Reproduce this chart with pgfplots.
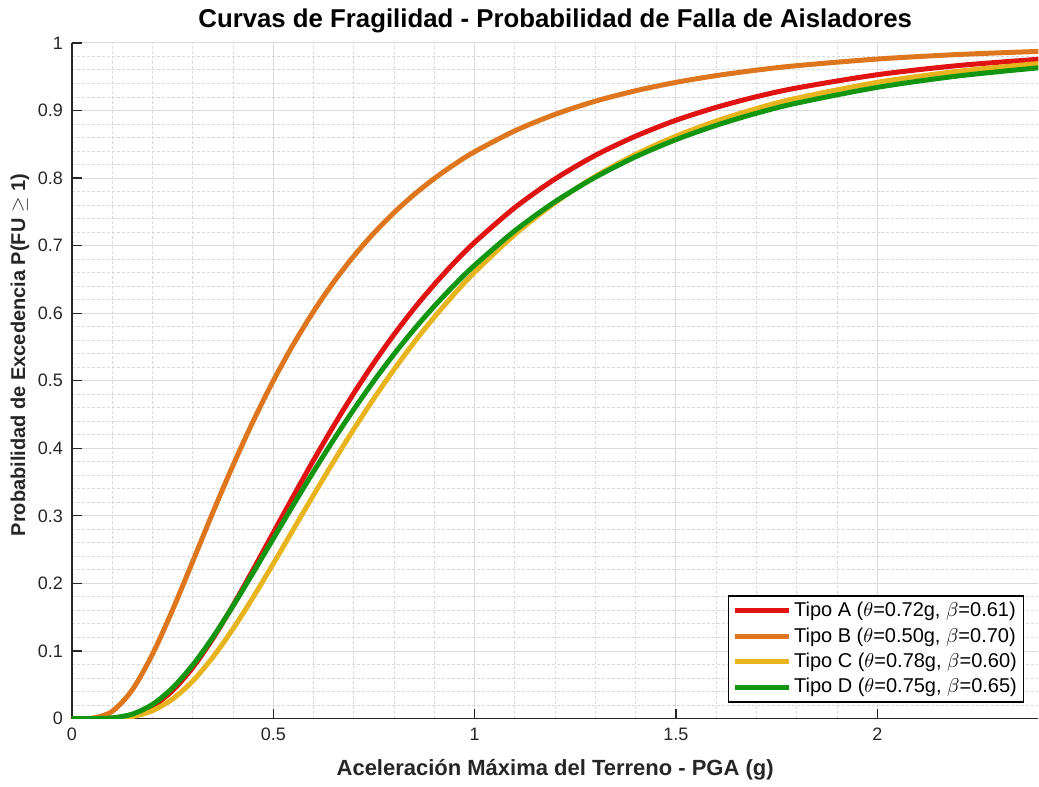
\documentclass[border=0pt]{standalone}
\usepackage{pgfplots}
\pgfplotsset{compat=1.18}
\usepackage{pgfplotstable}
\usepackage{fontspec}
\setmainfont{Liberation Sans}

\definecolor{cA}{RGB}{224,18,18}
\definecolor{cB}{RGB}{222,118,30}
\definecolor{cC}{RGB}{232,180,30}
\definecolor{cD}{RGB}{18,150,18}
\definecolor{axgray}{RGB}{38,38,38}

% PGA (g) vs probability of exceedance, one column per isolator type
\pgfplotstableread{
x     A       B       C       D
0     0       0       0       0
0.05  0.0000  0.0005  0.0000  0.0000
0.10  0.0006  0.0107  0.0003  0.0010
0.15  0.0051  0.0427  0.0030  0.0066
0.20  0.0179  0.0953  0.0117  0.0210
0.25  0.0415  0.1610  0.0290  0.0455
0.30  0.0756  0.2327  0.0556  0.0793
0.35  0.1185  0.3052  0.0909  0.1205
0.40  0.1676  0.3749  0.1329  0.1667
0.45  0.2205  0.4401  0.1797  0.2160
0.50  0.2751  0.5000  0.2293  0.2664
0.55  0.3294  0.5541  0.2802  0.3166
0.60  0.3825  0.6027  0.3310  0.3657
0.65  0.4334  0.6461  0.3806  0.4129
0.70  0.4816  0.6846  0.4285  0.4577
0.75  0.5267  0.7187  0.4740  0.5000
0.80  0.5686  0.7490  0.5169  0.5396
0.85  0.6072  0.7758  0.5570  0.5764
0.90  0.6427  0.7994  0.5943  0.6105
0.95  0.6752  0.8204  0.6288  0.6420
1.00  0.7049  0.8390  0.6606  0.6710
1.10  0.7564  0.8700  0.7167  0.7221
1.20  0.7988  0.8944  0.7636  0.7652
1.30  0.8337  0.9139  0.8027  0.8013
1.40  0.8621  0.9293  0.8352  0.8316
1.50  0.8856  0.9417  0.8621  0.8569
1.60  0.9047  0.9517  0.8844  0.8781
1.70  0.9205  0.9598  0.9029  0.8960
1.80  0.9334  0.9664  0.9183  0.9110
2.00  0.9530  0.9762  0.9417  0.9343
2.20  0.9665  0.9829  0.9580  0.9511
2.40  0.9758  0.9875  0.9695  0.9632
}\fragdata

\begin{document}
\begin{tikzpicture}
\begin{axis}[
    scale only axis,
    width=483.5pt, height=338pt,
    xmin=0, xmax=2.4, ymin=0, ymax=1,
    axis x line*=bottom, axis y line*=left,
    axis line style={axgray, line width=0.6pt},
    xtick={0,0.5,1,1.5,2},
    ytick={0,0.1,0.2,0.3,0.4,0.5,0.6,0.7,0.8,0.9,1},
    minor x tick num=4, minor y tick num=4,
    tick align=inside,
    major tick length=5pt, minor tick length=0pt,
    tick style={axgray, line width=0.6pt},
    ticklabel style={font=\fontsize{9}{11}\selectfont, text=axgray},
    /pgf/number format/assume math mode=true,
    xticklabel style={yshift=-1pt},
    yticklabel style={xshift=-1pt},
    grid=both,
    major grid style={solid, color=black!14, line width=0.5pt},
    minor grid style={dash pattern=on 1.5pt off 1pt, color=black!15, line width=0.5pt},
    title={\bfseries Curvas de Fragilidad - Probabilidad de Falla de Aisladores},
    title style={font=\fontsize{12.9}{15}\selectfont, at={(rel axis cs:0.5,1)}, anchor=base, yshift=1.5pt, text=black},
    xlabel={\bfseries Aceleración Máxima del Terreno - PGA (g)},
    xlabel style={font=\fontsize{11}{13}\selectfont, at={(rel axis cs:0.5,0)}, anchor=base, yshift=-28.5pt, text=axgray},
    ylabel={\bfseries Probabilidad de Excedencia P(FU $\geq$ 1)},
    ylabel style={font=\fontsize{10}{12}\selectfont, at={([xshift=-26pt]rel axis cs:0,0.538)}, anchor=center, text=axgray},
    legend style={at={(rel axis cs:1,0)}, anchor=south east, xshift=-7pt, yshift=8pt,
        draw=black, line width=0.6pt, font=\fontsize{10}{11.6}\selectfont,
        inner xsep=2pt, inner ysep=1pt, row sep=0pt, fill=white,
        nodes={inner xsep=1.5pt}},
    legend cell align=left,
    legend image code/.code={\draw[#1, line width=2.5pt] (0pt,0pt) -- (27pt,0pt);},
    every axis plot/.append style={line width=2.5pt, smooth},
]
\addplot[cA] table[x=x, y=A] {\fragdata};
\addlegendentry{Tipo A ($\theta$=0.72g, $\beta$=0.61)}
\addplot[cB] table[x=x, y=B] {\fragdata};
\addlegendentry{Tipo B ($\theta$=0.50g, $\beta$=0.70)}
\addplot[cC] table[x=x, y=C] {\fragdata};
\addlegendentry{Tipo C ($\theta$=0.78g, $\beta$=0.60)}
\addplot[cD] table[x=x, y=D] {\fragdata};
\addlegendentry{Tipo D ($\theta$=0.75g, $\beta$=0.65)}
\coordinate (ll) at (rel axis cs:0,0);
\coordinate (ur) at (rel axis cs:1,1);
\end{axis}
\path ([xshift=-36pt, yshift=-34pt]ll) rectangle ([yshift=21.5pt]ur);
\end{tikzpicture}
\end{document}
